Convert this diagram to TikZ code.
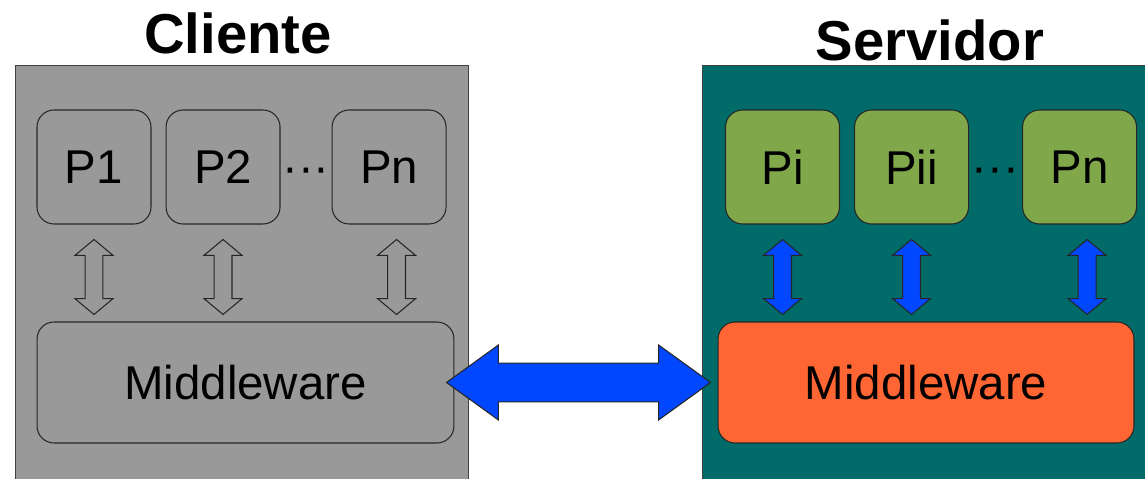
\documentclass[tikz,border=0pt]{standalone}
\usepackage{fontspec}
\setmainfont{Liberation Sans}
\usetikzlibrary{positioning,calc}

\definecolor{cligray}{RGB}{153,153,153}
\definecolor{srvteal}{RGB}{0,107,104}
\definecolor{srvgreen}{RGB}{128,167,74}
\definecolor{srvorange}{RGB}{255,102,51}
\definecolor{linkblue}{RGB}{0,71,255}

\tikzset{
  every picture/.style = {
    x = 0.02cm,
    y = -0.02cm,
    line width = 0.6pt,
  }
  ,
  side/.style = {
    rectangle,
    draw = black!75,
    anchor = north west,
    minimum height = 8.5cm,
    inner sep = 0pt
  }
  , % titles over each side
  side-title/.style = {
    font = \fontsize{32}{38}\selectfont\bfseries,
    anchor = base
  }
  ,
  proc/.style = {
    rectangle,
    rounded corners = 0.34cm,
    draw = black!85,
    font = \fontsize{27}{32}\selectfont,
    minimum width = 2.28cm,
    minimum height = 2.28cm,
    inner sep = 0pt
  }
  ,
  mware/.style = {
    proc,
    minimum width = 8.34cm,
    minimum height = 2.42cm
  }
  ,
  proc-dots/.style = {
    font = \fontsize{27}{32}\selectfont,
    anchor = base,
    inner sep = 0pt
  }
  , % links between processes and middleware
  link-client/.style = {
    draw = black!85,
    fill = cligray
  }
  ,
  link-server/.style = {
    draw = black!85,
    fill = linkblue
  }
}

% fat double-headed link from #2 to #3
% #4 head length, #5 head half width, #6 shaft half width
\newcommand{\fatlink}[6][]{%
  \path[#1] let \p1 = ($(#3)-(#2)$),
                \n1 = {atan2(\y1,\x1)},
                \n2 = {veclen(\x1,\y1)-#4} in
    (#2) -- ($(#2)+(\n1:#4)+(\n1+90:#5)$) -- ($(#2)+(\n1:#4)+(\n1+90:#6)$)
    -- ($(#2)+(\n1:\n2)+(\n1+90:#6)$) -- ($(#2)+(\n1:\n2)+(\n1+90:#5)$)
    -- (#3)
    -- ($(#2)+(\n1:\n2)+(\n1-90:#5)$) -- ($(#2)+(\n1:\n2)+(\n1-90:#6)$)
    -- ($(#2)+(\n1:#4)+(\n1-90:#6)$) -- ($(#2)+(\n1:#4)+(\n1-90:#5)$)
    -- cycle;
}

\begin{document}
\begin{tikzpicture}
    \useasboundingbox (0,0) rectangle (1145,479);

    % the two sides
    \node [side, fill=cligray, minimum width=9.06cm] (cliente) at (15,65) {};
    \node [side, fill=srvteal, minimum width=9.2cm] (servidor) at (702,65) {};
    \node [side-title] (tcli) at (238,54) {Cliente};
    \node [side-title] (tsrv) at (930,61) {Servidor};

    % client processes
    \node [proc, fill=cligray] (p1) at (94,167) {P1};
    \node [proc, fill=cligray, right = 0.28cm of p1] (p2) {P2};
    \node [proc, fill=cligray, right = 1.02cm of p2] (pn) {Pn};
    \node [proc-dots] (cdots) at ($(p2.base east)!0.5!(pn.base west)$) {···};
    \node [mware, fill=cligray] (cmw) at (245.5,382.5) {Middleware};

    % server processes
    \node [proc, fill=srvgreen] (pi) at (782.5,167) {Pi};
    \node [proc, fill=srvgreen, right = 0.28cm of pi] (pii) {Pii};
    \node [proc, fill=srvgreen, right = 1.06cm of pii] (spn) {Pn};
    \node [proc-dots] (sdots) at ($(pii.base east)!0.5!(spn.base west)$) {···};
    \node [mware, fill=srvorange, minimum width=8.32cm] (smw) at (926,382.5) {Middleware};

    % process <-> middleware
    \foreach \p/\dx in {p1/0, p2/0, pn/7.5} {
        \coordinate (top) at ($(\p.south)+(\dx,15)$);
        \coordinate (bot) at ($(top |- cmw.north)+(0,-7)$);
        \fatlink[link-client]{top}{bot}{9pt}{10.8pt}{5.1pt}
    }
    \foreach \p/\dx in {pi/0, pii/0, spn/7.5} {
        \coordinate (top) at ($(\p.south)+(\dx,15)$);
        \coordinate (bot) at ($(top |- smw.north)+(0,-7)$);
        \fatlink[link-server]{top}{bot}{9pt}{10.8pt}{5.1pt}
    }

    % middleware <-> middleware
    \coordinate (l) at ($(cmw.east)+(-8,0)$);
    \coordinate (r) at ($(smw.west)+(-7,0)$);
    \fatlink[link-server]{l}{r}{29.5pt}{21.3pt}{11pt}
\end{tikzpicture}
\end{document}
